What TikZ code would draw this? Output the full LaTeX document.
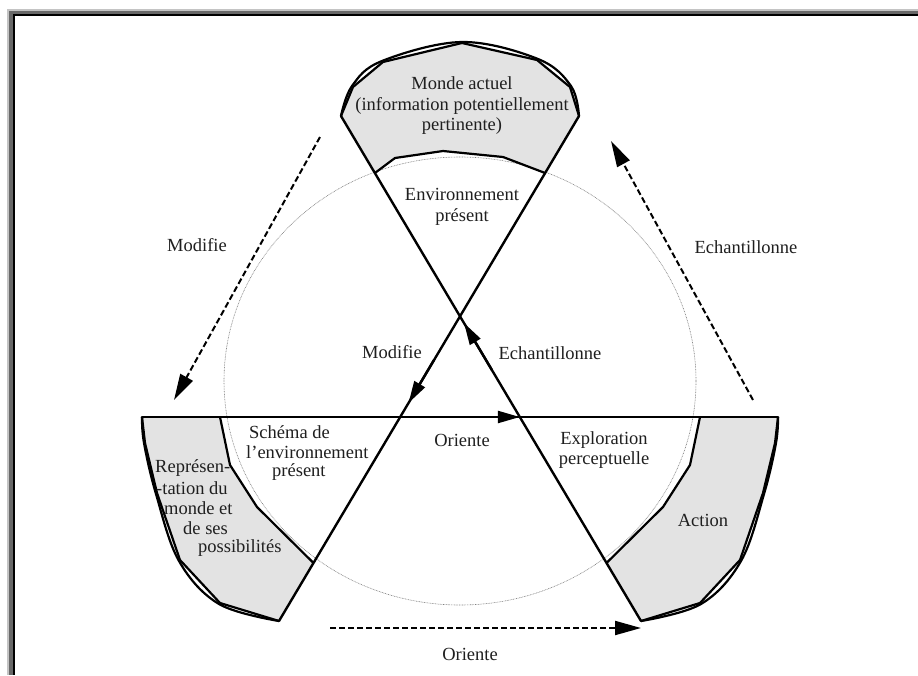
\documentclass[tikz,border=0pt]{standalone}
\usepackage{fontspec}
\setmainfont{Liberation Serif}
\usetikzlibrary{arrows.meta,calc}
\definecolor{secfill}{HTML}{E3E3E3}
\definecolor{frlight}{HTML}{C4C4C4}
\definecolor{frdark}{HTML}{686868}
\begin{document}
\begin{tikzpicture}[x=1pt,y=-1pt,
  lbl/.style={font=\fontsize{18.5}{20.5}\selectfont, align=center, inner sep=0pt, text=black!88},
  mainline/.style={line width=2.4pt, line cap=round, line join=round},
  rim/.style={line width=2.2pt, line join=round},
  solidhead/.style={line width=2.4pt, -{Triangle[length=22pt,width=12pt]}},
  dasharrow/.style={line width=2pt, dash pattern=on 6pt off 3pt, -{Triangle[length=26pt,width=14pt]}}]
\useasboundingbox (0,0) rectangle (918,675);
% frame
\fill[frlight] (7,9) rectangle (918,675);
\fill[frdark] (8.7,11) rectangle (918,675);
\fill[black] (12.7,14) rectangle (918,675);
\fill[white] (15,16) rectangle (918,675);

% dotted circle
\draw[gray, line width=0.6pt, dash pattern=on 0.8pt off 0.8pt] (460,381) ellipse [x radius=236pt, y radius=224pt];

% key points
\coordinate (L1a) at (341,116);
\coordinate (L1b) at (641,621);
\coordinate (L2a) at (579,116);
\coordinate (L2b) at (279,621);
\coordinate (Ha) at (142,417);
\coordinate (Hb) at (778,417);
\coordinate (TIl) at (374.9,173);
\coordinate (TIr) at (545.1,173);
\coordinate (LIa) at (220,417);
\coordinate (LIb) at (313.5,563);
\coordinate (RIa) at (700,417);
\coordinate (RIb) at (606.5,563);

% top sector
\fill[secfill] (L1a) -- (353,87) -- (383,62) -- (462,43) -- (537,60) -- (570,87) -- (L2a) -- (TIr) -- (503,157) -- (443,151) -- (395,158) -- (TIl) -- cycle;
\draw[rim] (L1a) -- (353,87) -- (383,62) -- (462,43) -- (537,60) -- (570,87) -- (L2a);
\draw[rim] plot[smooth, tension=0.6] coordinates {(341,116) (352,86) (382,61) (462,42) (538,59) (571,86) (579,116)};
\draw[rim] (TIl) -- (395,158) -- (443,151) -- (503,157) -- (TIr);

% left sector
\fill[secfill] (Ha) -- (145,443) -- (157,493) -- (180,560) -- (220,603) -- (L2b) -- (LIb) -- (257,507) -- (230,465) -- (LIa) -- cycle;
\draw[rim] (Ha) -- (145,443) -- (157,493) -- (180,560) -- (220,603) -- (L2b);
\draw[rim] plot[smooth, tension=0.6] coordinates {(142,417) (144,443) (156,494) (179,561) (219,604) (279,621)};
\draw[rim] (LIa) -- (230,465) -- (257,507) -- (LIb);

% right sector
\fill[secfill] (Hb) -- (775,443) -- (763,493) -- (740,560) -- (700,603) -- (L1b) -- (RIb) -- (663,507) -- (690,465) -- (RIa) -- cycle;
\draw[rim] (Hb) -- (775,443) -- (763,493) -- (740,560) -- (700,603) -- (L1b);
\draw[rim] plot[smooth, tension=0.6] coordinates {(778,417) (776,443) (764,494) (741,561) (701,604) (641,621)};
\draw[rim] (RIa) -- (690,465) -- (663,507) -- (RIb);

% main lines
\draw[mainline] (L1a) -- (L1b);
\draw[mainline] (L2a) -- (L2b);
\draw[mainline] (Ha) -- (Hb);

% arrowheads on main lines
\coordinate (hTip) at (519.8,417);
\coordinate (hTail) at (470,417);
\coordinate (mTip) at (408.5,403);
\coordinate (mTail) at (434,360);
\coordinate (eTip) at (464,323);
\coordinate (eTail) at (491.9,370);
\draw[solidhead] (hTail) -- (hTip);
\draw[solidhead] (mTail) -- (mTip);
\draw[solidhead] (eTail) -- (eTip);

% dashed outer arrows
\coordinate (dmA) at (320,137);
\coordinate (dmB) at (174,400);
\coordinate (deA) at (753,400);
\coordinate (deB) at (611,141);
\coordinate (doA) at (330,628);
\coordinate (doB) at (641,628);
\draw[dasharrow] (dmA) -- (dmB);
\draw[dasharrow] (deA) -- (deB);
\draw[dasharrow] (doA) -- (doB);

% labels
\node[lbl] (monde) at (462,106) {Monde actuel\\(information potentiellement\\pertinente)};
\node[lbl] (env) at (462,207) {Environnement\\présent};
\node[lbl, anchor=west] (s1) at (249,432) {Schéma de};
\node[lbl, anchor=west] (s2) at (246,452) {l’environnement};
\node[lbl, anchor=west] (s3) at (272,472) {présent};
\node[lbl] (explo) at (604,450) {Exploration\\perceptuelle};
\node[lbl] (action) at (703,520) {Action};
\node[lbl] (orI) at (462,440) {Oriente};
\node[lbl] (modI) at (392,352) {Modifie};
\node[lbl] (echI) at (550,353) {Echantillonne};
\node[lbl] (modO) at (197,245) {Modifie};
\node[lbl] (echO) at (746,247) {Echantillonne};
\node[lbl] (orO) at (470,654) {Oriente};
\node[lbl, anchor=west] (r1) at (155,468) {Représen-};
\node[lbl, anchor=west] (r2) at (156,488) {-tation du};
\node[lbl, anchor=west] (r3) at (164,508) {monde et};
\node[lbl, anchor=west] (r4) at (183,528) {de ses};
\node[lbl, anchor=west] (r5) at (198,548) {possibilités};
\end{tikzpicture}
\end{document}
